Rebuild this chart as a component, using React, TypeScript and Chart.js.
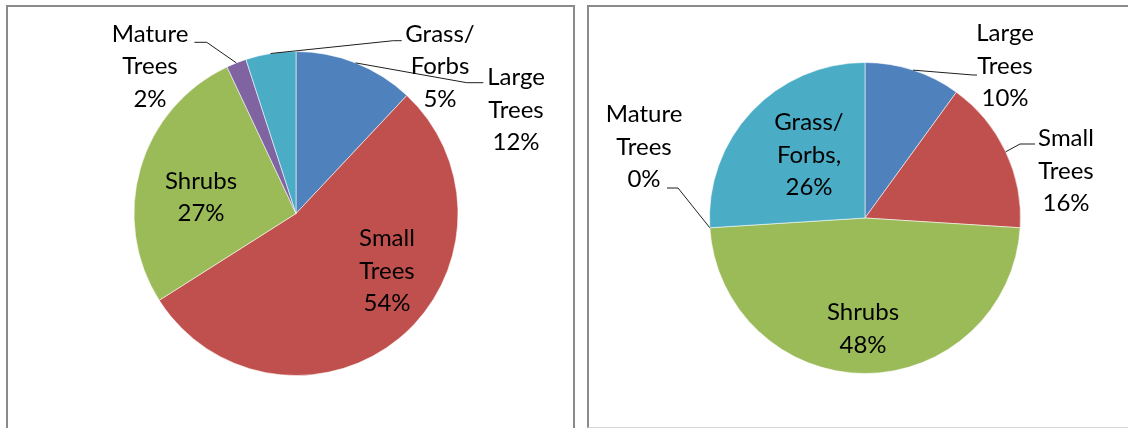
import React, { useEffect, useRef } from "react";
import { Chart, registerables } from "chart.js";

Chart.register(...registerables);

// ---------- data ----------
const categories = ["Large Trees", "Small Trees", "Shrubs", "Mature Trees", "Grass/Forbs"];
const leftValues = [12, 54, 27, 2, 5];
const rightValues = [10, 16, 48, 0, 26];
const leftLabelNames = [["Large", "Trees"], ["Small", "Trees"], ["Shrubs"], ["Mature", "Trees"], ["Grass/", "Forbs"]];
const rightLabelNames = [["Large", "Trees"], ["Small", "Trees"], ["Shrubs"], ["Mature", "Trees"], ["Grass/", "Forbs,"]];

// ---------- styles / layout ----------
const sliceColors = ["#4F81BD", "#C0504D", "#9BBB59", "#8064A2", "#4BACC6"];
const W = 1128;
const H = 428;
const FONT_FAMILY = "Lato, 'Open Sans', sans-serif";
const FONT_SIZE = 24;
const LINE_H = 32.5;

type LabelLayout = { dx: number; dy: number; leader?: number[][] };

const leftPie = { cx: 296, cy: 213.5, r: 162 };
const rightPie = { cx: 865, cy: 218, r: 155.5 };

const leftLabelLayout: LabelLayout[] = [
  { dx: 220, dy: -103.5, leader: [[170.7, -130.8], [187.3, -130.8]] },
  { dx: 91, dy: 57.5 },
  { dx: -95, dy: -16 },
  { dx: -146, dy: -147, leader: [[-89.3, -171.2], [-101.6, -171.2]] },
  { dx: 144, dy: -147, leader: [[97.3, -172.8], [105.7, -172.8]] },
];

const rightLabelLayout: LabelLayout[] = [
  { dx: 140, dy: -152, leader: [[108, -143], [112, -143]] },
  { dx: 201, dy: -47, leader: [[155, -74], [170, -74]] },
  { dx: -2, dy: 111 },
  { dx: -221, dy: -71, leader: [[-187, -30], [-198, -30]] },
  { dx: -56, dy: -63 },
];

const labelPlugin = {
  id: "pieLabels",
  afterDatasetsDraw(chart: any, _args: any, opts: any) {
    const ctx = chart.ctx;
    const meta = chart.getDatasetMeta(0);
    const values: number[] = chart.data.datasets[0].data;
    const names: string[][] = opts.names;
    const layout: LabelLayout[] = opts.layout;
    ctx.save();
    meta.data.forEach((arc: any, i: number) => {
      const { x, y, startAngle, endAngle, outerRadius } = arc.getProps(
        ["x", "y", "startAngle", "endAngle", "outerRadius"],
        true
      );
      const L = layout[i];
      if (L.leader) {
        const mid = (startAngle + endAngle) / 2;
        ctx.beginPath();
        ctx.strokeStyle = "#1f1f1f";
        ctx.lineWidth = 1;
        ctx.moveTo(x + Math.cos(mid) * outerRadius, y + Math.sin(mid) * outerRadius);
        L.leader.forEach((p) => ctx.lineTo(x + p[0], y + p[1]));
        ctx.stroke();
      }
      const lines = [...names[i], `${values[i]}%`];
      ctx.fillStyle = "#000";
      ctx.font = `${FONT_SIZE}px ${FONT_FAMILY}`;
      ctx.textAlign = "center";
      ctx.textBaseline = "middle";
      const n = lines.length;
      lines.forEach((t, k) => {
        ctx.fillText(t, x + L.dx, y + L.dy + (k - (n - 1) / 2) * LINE_H);
      });
    });
    ctx.restore();
  },
};

function PieCanvas({ values, names, layout, pie }: any) {
  const ref = useRef<HTMLCanvasElement>(null);
  useEffect(() => {
    if (!ref.current) return;
    const chart = new Chart(ref.current, {
      type: "pie",
      data: {
        labels: categories,
        datasets: [
          {
            data: values,
            backgroundColor: sliceColors,
            borderColor: "rgba(255,255,255,0.55)",
            borderWidth: 1,
          },
        ],
      },
      options: {
        responsive: false,
        animation: false,
        events: [],
        radius: pie.r,
        layout: {
          padding: {
            left: pie.cx - pie.r - 2,
            right: W - pie.cx - pie.r - 2,
            top: pie.cy - pie.r - 2,
            bottom: H - pie.cy - pie.r - 2,
          },
        },
        plugins: {
          legend: { display: false },
          tooltip: { enabled: false },
          pieLabels: { names, layout },
        } as any,
      } as any,
      plugins: [labelPlugin],
    });
    return () => chart.destroy();
  }, []);
  return (
    <canvas
      ref={ref}
      width={W}
      height={H}
      style={{ position: "absolute", left: 0, top: 0, width: W, height: H }}
    />
  );
}

export default function App() {
  return (
    <div
      style={{
        position: "fixed",
        left: 0,
        top: 0,
        width: W,
        height: H,
        overflow: "hidden",
        background: "#fff",
      }}
    >
      <div
        style={{
          position: "absolute",
          left: 6,
          top: 5,
          width: 569,
          height: 440,
          boxSizing: "border-box",
          borderLeft: "2px solid #8a8a8a",
          borderTop: "2px solid #8a8a8a",
          borderRight: "2px solid #8a8a8a",
        }}
      />
      <div
        style={{
          position: "absolute",
          left: 587,
          top: 5,
          width: 560,
          height: 423,
          boxSizing: "border-box",
          borderLeft: "2px solid #8a8a8a",
          borderTop: "2px solid #8a8a8a",
          borderBottom: "1px solid #d6d6d6",
        }}
      />
      <PieCanvas values={leftValues} names={leftLabelNames} layout={leftLabelLayout} pie={leftPie} />
      <PieCanvas values={rightValues} names={rightLabelNames} layout={rightLabelLayout} pie={rightPie} />
    </div>
  );
}
